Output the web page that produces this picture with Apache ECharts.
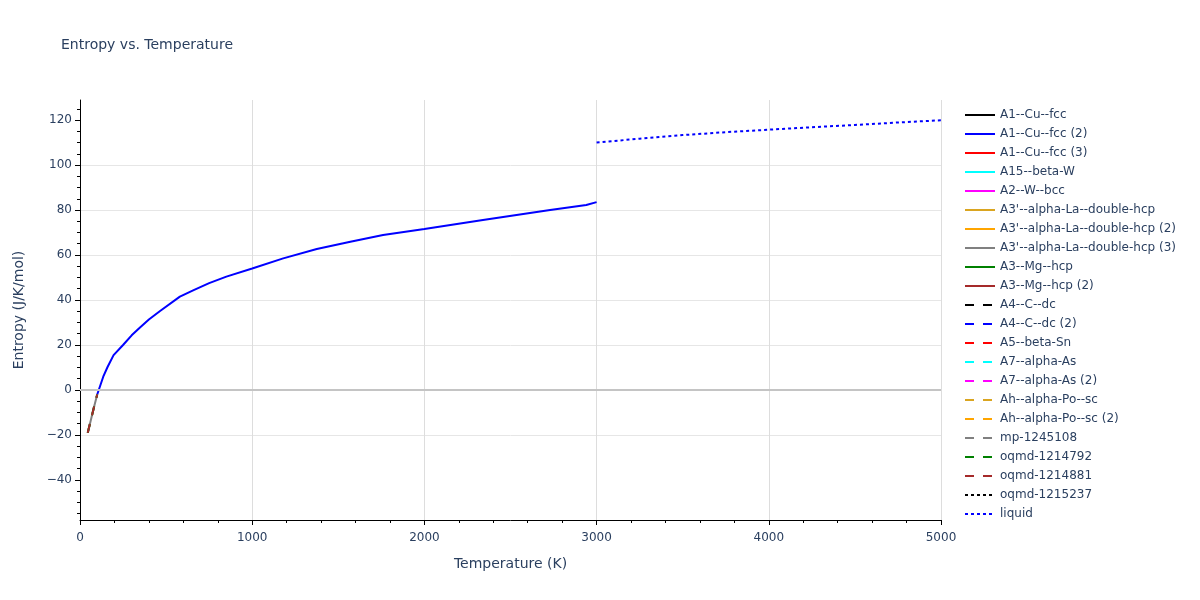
<!DOCTYPE html>
<html>
<head>
<meta charset="utf-8">
<script src="https://cdn.jsdelivr.net/npm/echarts@6/dist/echarts.min.js"></script>
<style>html,body{margin:0;padding:0;background:#fff;}#chart{width:1200px;height:600px;}</style>
</head>
<body>
<div id="chart"></div>
<script>
// ---- data ----
const seriesNames = [
  "A1--Cu--fcc", "A1--Cu--fcc (2)", "A1--Cu--fcc (3)", "A15--beta-W", "A2--W--bcc",
  "A3'--alpha-La--double-hcp", "A3'--alpha-La--double-hcp (2)", "A3'--alpha-La--double-hcp (3)",
  "A3--Mg--hcp", "A3--Mg--hcp (2)", "A4--C--dc", "A4--C--dc (2)", "A5--beta-Sn",
  "A7--alpha-As", "A7--alpha-As (2)", "Ah--alpha-Po--sc", "Ah--alpha-Po--sc (2)",
  "mp-1245108", "oqmd-1214792", "oqmd-1214881", "oqmd-1215237", "liquid"
];
const seriesColors = [
  "#000000", "#0000ff", "#ff0000", "#00ffff", "#ff00ff",
  "#daa520", "#ffa500", "#808080", "#008000", "#a52a2a",
  "#000000", "#0000ff", "#ff0000", "#00ffff", "#ff00ff",
  "#daa520", "#ffa500", "#808080", "#008000", "#a52a2a",
  "#000000", "#0000ff"
];
const seriesDash = [
  "solid","solid","solid","solid","solid","solid","solid","solid","solid","solid",
  "dash","dash","dash","dash","dash","dash","dash","dash","dash","dash",
  "dot","dot"
];

// solid-phase curve (A1--Cu--fcc (2))
const tempSolid = [100, 135, 160, 195, 250, 300, 350, 400, 465, 580, 660, 750, 850, 1000, 1180, 1375, 1570, 1760, 2000, 2340, 2730, 2940, 3000];
const entropySolid = [-2, 5.9, 10.2, 15.5, 20, 24.3, 27.9, 31.3, 35.1, 41.5, 44.4, 47.5, 50.4, 54, 58.5, 62.7, 65.9, 68.9, 71.6, 75.6, 80, 82.2, 83.5];

// low-temperature segment shared by several phases
const tempLow = [45, 60, 80, 100];
const entropyLow = [-19, -14.3, -8, -2];

// liquid
const tempLiquid = [3000, 3250, 3500, 3750, 4000, 4250, 4500, 4750, 5000];
const entropyLiquid = [110, 111.7, 113.3, 114.6, 115.7, 116.8, 117.8, 118.9, 119.9];

const lowTSeries = ["A3'--alpha-La--double-hcp (3)", "mp-1245108", "oqmd-1214792", "oqmd-1214881"];

const xTicks = [0, 1000, 2000, 3000, 4000, 5000];
const yTicks = [-40, -20, 0, 20, 40, 60, 80, 100, 120];
const yMinorTicks = [-55, -50, -45, -35, -30, -25, -15, -10, -5, 5, 10, 15, 25, 30, 35, 45, 50, 55, 65, 70, 75, 85, 90, 95, 105, 110, 115, 125];

// ---- chart ----
const FONT = "DejaVu Sans";
const TXT = "#2a3f5f";
const zip = (a, b) => a.map((v, i) => [v, b[i]]);
const dashOf = d => d === "dash" ? [9, 9] : (d === "dot" ? [3, 3] : "solid");
const numFmt = v => String(v).replace("-", "\u2212");

const series = seriesNames.map((name, i) => {
  let data = [];
  if (name === "A1--Cu--fcc (2)") data = zip(tempSolid, entropySolid);
  else if (name === "liquid") data = zip(tempLiquid, entropyLiquid);
  else if (lowTSeries.includes(name)) data = zip(tempLow, entropyLow);
  return {
    name: name,
    type: "line",
    data: data,
    showSymbol: false,
    symbol: "none",
    z: 3,
    color: seriesColors[i],
    lineStyle: { color: seriesColors[i], width: 2, type: dashOf(seriesDash[i]) },
    emphasis: { disabled: true },
    animation: false
  };
});
// zero line (axis reference)
series.push({
  name: "__zero",
  type: "line",
  data: [],
  z: 1,
  silent: true,
  markLine: {
    silent: true,
    symbol: "none",
    animation: false,
    label: { show: false },
    lineStyle: { color: "#c4c4c4", width: 2, type: "solid" },
    data: [{ yAxis: 0 }]
  }
});

const chart = echarts.init(document.getElementById("chart"), null, { renderer: "canvas" });
chart.setOption({
  animation: false,
  backgroundColor: "#ffffff",
  textStyle: { fontFamily: FONT },
  title: {
    text: "Entropy vs. Temperature",
    left: 56, top: 33,
    textStyle: { fontFamily: FONT, fontSize: 14, fontWeight: "normal", color: TXT }
  },
  grid: { left: 80, right: 259, top: 100, bottom: 80, containLabel: false },
  legend: {
    type: "plain",
    orient: "vertical",
    left: 959, top: 104,
    itemWidth: 30, itemHeight: 12, itemGap: 7,
    data: seriesNames,
    itemStyle: { opacity: 0 },
    textStyle: { fontFamily: FONT, fontSize: 12, color: TXT },
    selectedMode: false
  },
  xAxis: {
    type: "value",
    min: 0, max: 5000, interval: 1000,
    name: "Temperature (K)",
    nameLocation: "middle", nameGap: 37,
    nameTextStyle: { fontFamily: FONT, fontSize: 14, color: TXT },
    axisLine: { show: true, onZero: false, lineStyle: { color: "#000", width: 1 } },
    axisTick: { show: true, length: 5, lineStyle: { color: "#000" } },
    minorTick: { show: true, splitNumber: 5, length: 3, lineStyle: { color: "#000" } },
    axisLabel: { fontFamily: FONT, fontSize: 12, color: TXT, margin: 12,
                 customValues: xTicks, formatter: numFmt },
    splitLine: { show: true, lineStyle: { color: "#dddddd", width: 1 } },
    minorSplitLine: { show: false }
  },
  yAxis: [{
    type: "value",
    min: -57.8, max: 128.9, splitNumber: 9,
    name: "Entropy (J/K/mol)",
    nameLocation: "middle", nameGap: 54,
    nameTextStyle: { fontFamily: FONT, fontSize: 14, color: TXT },
    axisLine: { show: true, onZero: false, lineStyle: { color: "#000", width: 1 } },
    axisTick: { show: true, length: 5, lineStyle: { color: "#000" }, customValues: yTicks },
    axisLabel: { fontFamily: FONT, fontSize: 12, color: TXT, margin: 8, customValues: yTicks, formatter: numFmt },
    splitLine: { show: true, showMinLine: false, showMaxLine: false, lineStyle: { color: "#e6e6e6", width: 1 } }
  }, {
    type: "value",
    position: "left",
    min: -57.8, max: 128.9, splitNumber: 9,
    axisLine: { show: false },
    axisTick: { show: true, length: 3, lineStyle: { color: "#000" }, customValues: yMinorTicks },
    axisLabel: { show: false },
    splitLine: { show: false }
  }],
  series: series
});
</script>
</body>
</html>
